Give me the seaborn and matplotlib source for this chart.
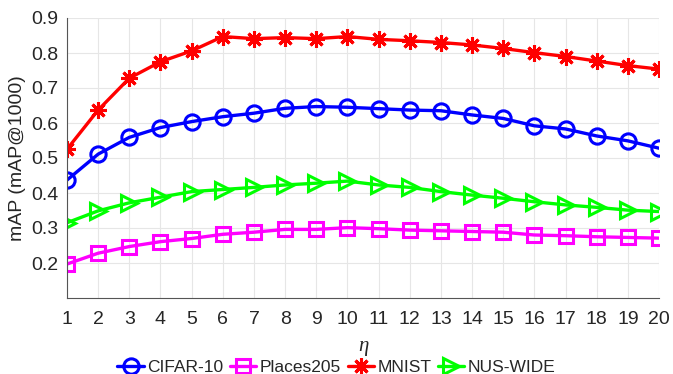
import numpy as np
import pandas as pd
import matplotlib
matplotlib.use("Agg")
import matplotlib.pyplot as plt
import seaborn as sns

# ========== DATA ==========
eta = list(range(1, 21))
cifar10 = [0.437, 0.511, 0.559, 0.587, 0.604, 0.618, 0.628, 0.642, 0.647, 0.645,
           0.641, 0.637, 0.635, 0.623, 0.613, 0.592, 0.583, 0.563, 0.549, 0.528]
places205 = [0.197, 0.228, 0.247, 0.261, 0.270, 0.282, 0.288, 0.296, 0.296, 0.301,
             0.298, 0.294, 0.292, 0.290, 0.288, 0.280, 0.278, 0.275, 0.273, 0.271]
mnist = [0.525, 0.637, 0.728, 0.775, 0.806, 0.847, 0.841, 0.844, 0.841, 0.847,
         0.839, 0.835, 0.830, 0.823, 0.813, 0.801, 0.790, 0.777, 0.764, 0.754]
nus_wide = [0.315, 0.349, 0.372, 0.388, 0.404, 0.410, 0.416, 0.423, 0.428, 0.434,
            0.423, 0.416, 0.404, 0.394, 0.385, 0.375, 0.366, 0.359, 0.351, 0.347]
series_names = ["CIFAR-10", "Places205", "MNIST", "NUS-WIDE"]
y_ticks = [0.2, 0.3, 0.4, 0.5, 0.6, 0.7, 0.8, 0.9]

sns.set_style("whitegrid")
plt.rcParams['font.family'] = ['Liberation Sans', 'DejaVu Sans']

df = pd.DataFrame({"eta": eta, "CIFAR-10": cifar10, "Places205": places205,
                   "MNIST": mnist, "NUS-WIDE": nus_wide})
df_long = df.melt(id_vars="eta", var_name="Dataset", value_name="mAP")

colors = {"CIFAR-10": "#0000ff", "Places205": "#ff00ff", "MNIST": "#ff0000", "NUS-WIDE": "#00ff00"}
markers = {"CIFAR-10": "o", "Places205": "s", "MNIST": (8, 2, 0), "NUS-WIDE": ">"}
msizes = {"CIFAR-10": 11, "Places205": 10, "MNIST": 12, "NUS-WIDE": 12}

fig, ax = plt.subplots(figsize=(6.73, 3.74), dpi=100)
fig.subplots_adjust(left=67/673, right=659/673, top=1-18/374, bottom=1-298/374)

for name in series_names:
    sub = df_long[df_long["Dataset"] == name]
    sns.lineplot(data=sub, x="eta", y="mAP", ax=ax, color=colors[name], label=name,
                 marker=markers[name], markersize=msizes[name], linewidth=2.4,
                 markerfacecolor="none", markeredgecolor=colors[name], markeredgewidth=2.2)

ax.set_xlim(1, 20)
ax.set_ylim(0.1, 0.9)
ax.set_xticks(eta)
ax.set_yticks(y_ticks)
ax.set_yticklabels([f"{v:.1f}" for v in y_ticks])
ax.grid(True, color="#e6e6e6", linewidth=0.8)
ax.tick_params(axis="both", labelsize=14, colors="#555555", labelcolor="#262626",
               length=4, width=0.8, direction="in")
ax.tick_params(axis="x", pad=9)
ax.tick_params(axis="y", pad=6)
for s in ["top", "right"]:
    ax.spines[s].set_visible(False)
for s in ["left", "bottom"]:
    ax.spines[s].set_color("#555555")
    ax.spines[s].set_linewidth(0.8)

ax.set_xlabel("η", fontsize=15, family="Liberation Serif", style="italic", labelpad=7)
ax.set_ylabel("mAP (mAP@1000)", fontsize=14, color="#262626", labelpad=4)

handles, labels = ax.get_legend_handles_labels()
ax.get_legend().remove()
fig.legend(handles, labels, loc="lower center", bbox_to_anchor=(0.5, -0.045), ncol=4,
           frameon=False, fontsize=12.5, handlelength=1.5, handletextpad=0.2,
           columnspacing=0.4)

plt.savefig("out.png", dpi=100)
plt.close()
